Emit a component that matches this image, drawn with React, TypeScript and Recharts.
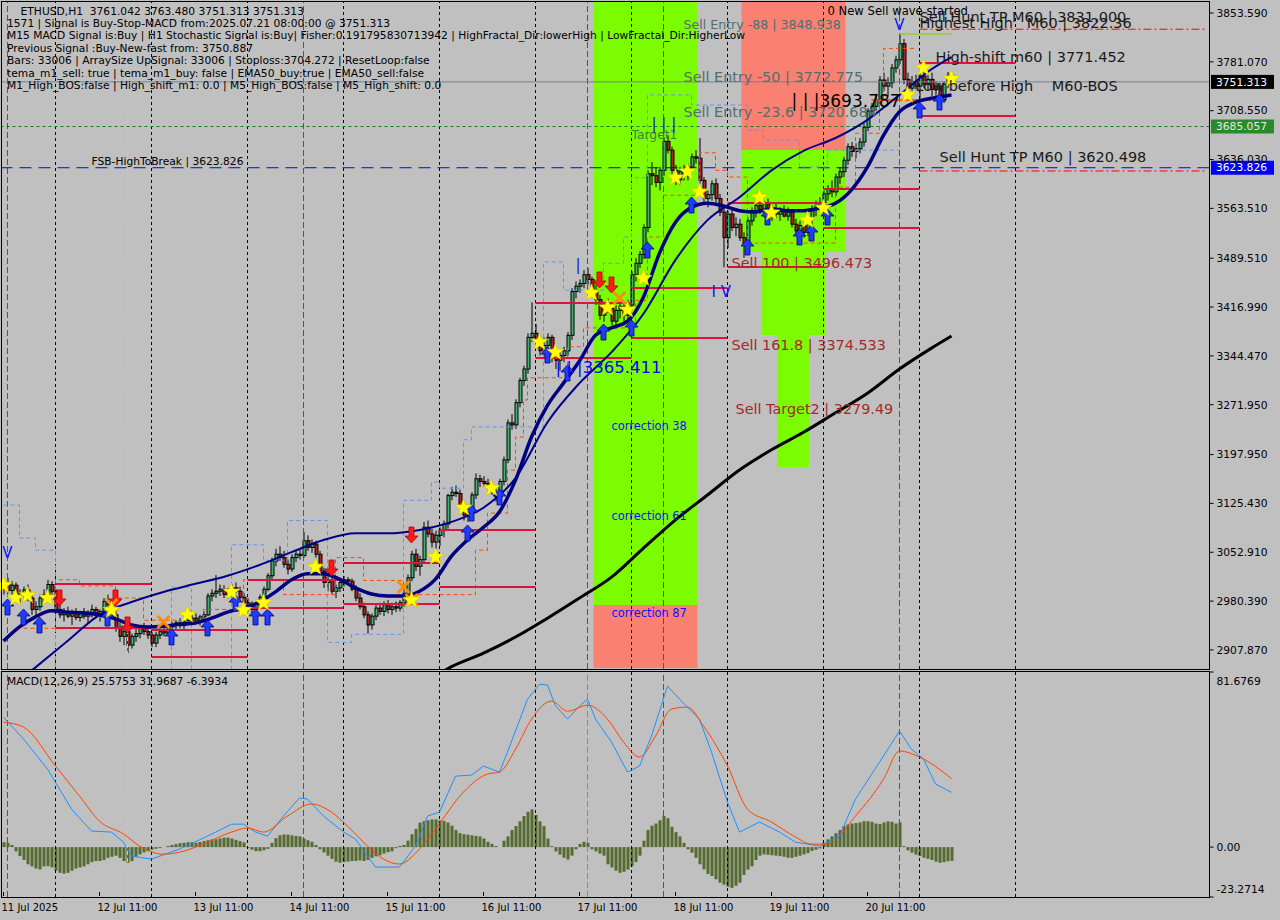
import React from 'react'
import {
  ComposedChart, Bar, Line, XAxis, YAxis,
  ReferenceArea, ReferenceLine, ReferenceDot,
} from 'recharts'

const FONT = "'DejaVu Sans', Verdana, sans-serif"

// ETHUSD H1 bars, [open, high, low, close], one array per day
const jul11 = [
  [2998, 3012, 2990, 3006], [3006, 3015, 2992, 2996], [2996, 3010, 2990, 3004], [3004, 3008, 2982, 2988],
  [2988, 2998, 2978, 2992], [2992, 3002, 2984, 2997], [2997, 3005, 2980, 2985], [2985, 2990, 2960, 2968],
  [2968, 2980, 2958, 2972], [2972, 2990, 2966, 2985], [2985, 2998, 2978, 2990], [2990, 3012, 2985, 3005],
  [3005, 3010, 2990, 2995],
]
const jul12 = [
  [2995, 2998, 2962, 2968], [2968, 2975, 2955, 2960], [2960, 2970, 2950, 2965], [2965, 2972, 2955, 2958],
  [2958, 2968, 2945, 2962], [2962, 2970, 2952, 2956], [2956, 2966, 2950, 2963], [2963, 2970, 2954, 2958],
  [2958, 2967, 2948, 2962], [2962, 2975, 2956, 2968], [2968, 2972, 2955, 2960], [2960, 2968, 2950, 2965],
  [2965, 2985, 2960, 2980], [2980, 2990, 2968, 2975], [2975, 2980, 2955, 2960], [2960, 2965, 2935, 2940],
  [2940, 2948, 2920, 2928], [2928, 2940, 2915, 2935], [2935, 2938, 2903, 2915], [2915, 2932, 2910, 2928],
  [2928, 2940, 2920, 2932], [2932, 2945, 2925, 2940], [2940, 2948, 2930, 2935], [2935, 2942, 2924, 2930],
]
const jul13 = [
  [2930, 2935, 2912, 2918], [2918, 2935, 2912, 2930], [2930, 2940, 2924, 2935], [2935, 2942, 2928, 2933],
  [2933, 2945, 2930, 2942], [2942, 2950, 2935, 2945], [2945, 2952, 2938, 2948], [2948, 2955, 2940, 2944],
  [2944, 2953, 2938, 2950], [2950, 2958, 2944, 2952], [2952, 2960, 2946, 2955], [2955, 2962, 2948, 2950],
  [2950, 2960, 2944, 2957], [2957, 2965, 2950, 2960], [2960, 2992, 2958, 2988], [2988, 2998, 2980, 2992],
  [2992, 3019, 2985, 2995], [2995, 3005, 2988, 2998], [2998, 3004, 2985, 2990], [2990, 3000, 2984, 2996],
  [2996, 3006, 2990, 3000], [3000, 3008, 2992, 2995], [2995, 3002, 2982, 2986], [2986, 2992, 2972, 2978],
]
const jul14 = [
  [2978, 2985, 2965, 2972], [2972, 2980, 2962, 2968], [2968, 2978, 2960, 2975], [2975, 2990, 2970, 2986],
  [2986, 3002, 2980, 2998], [2998, 3022, 2995, 3018], [3018, 3045, 3012, 3040], [3040, 3058, 3032, 3050],
  [3050, 3062, 3040, 3045], [3045, 3055, 3030, 3035], [3035, 3042, 3020, 3028], [3028, 3050, 3024, 3045],
  [3045, 3055, 3038, 3050], [3050, 3058, 3042, 3048], [3048, 3083, 3045, 3070], [3070, 3078, 3055, 3060],
  [3060, 3072, 3052, 3065], [3065, 3070, 3045, 3050], [3050, 3055, 3020, 3025], [3025, 3030, 3000, 3008],
  [3008, 3020, 2995, 3012], [3012, 3018, 2990, 2995], [2995, 3005, 2985, 3000], [3000, 3012, 2994, 3008],
]
const jul15 = [
  [3008, 3018, 3002, 3012], [3012, 3016, 3004, 3010], [3010, 3014, 2995, 2998], [2998, 3004, 2980, 2985],
  [2985, 2992, 2968, 2972], [2972, 2978, 2955, 2960], [2960, 2965, 2932, 2945], [2945, 2962, 2938, 2958],
  [2958, 2975, 2952, 2970], [2970, 2978, 2960, 2965], [2965, 2980, 2958, 2975], [2975, 2982, 2962, 2968],
  [2968, 2978, 2960, 2972], [2972, 2980, 2964, 2970], [2970, 2982, 2965, 2978], [2978, 2998, 2972, 2992],
  [2992, 3020, 2988, 3015], [3015, 3055, 3010, 3050], [3050, 3058, 3025, 3032], [3032, 3048, 3018, 3042],
  [3042, 3098, 3038, 3090], [3090, 3100, 3075, 3080], [3080, 3088, 3060, 3068], [3068, 3085, 3058, 3078],
]
const jul16 = [
  [3078, 3090, 3062, 3086], [3086, 3100, 3075, 3095], [3095, 3140, 3088, 3137], [3137, 3150, 3130, 3142],
  [3142, 3152, 3135, 3140], [3140, 3146, 3118, 3122], [3122, 3128, 3100, 3108], [3108, 3120, 3098, 3115],
  [3115, 3142, 3110, 3138], [3138, 3170, 3132, 3162], [3162, 3168, 3150, 3158], [3158, 3166, 3150, 3155],
  [3155, 3162, 3145, 3150], [3150, 3158, 3138, 3142], [3142, 3150, 3128, 3135], [3135, 3162, 3130, 3158],
  [3158, 3195, 3152, 3190], [3190, 3250, 3185, 3245], [3245, 3258, 3235, 3242], [3242, 3280, 3236, 3275],
  [3275, 3312, 3268, 3308], [3308, 3330, 3300, 3325], [3325, 3378, 3318, 3372], [3372, 3424, 3365, 3378],
]
const jul17 = [
  [3378, 3392, 3360, 3366], [3366, 3375, 3345, 3352], [3352, 3372, 3340, 3360], [3360, 3378, 3348, 3372],
  [3372, 3376, 3335, 3342], [3342, 3358, 3325, 3338], [3338, 3350, 3322, 3345], [3345, 3358, 3335, 3352],
  [3352, 3380, 3345, 3375], [3375, 3445, 3368, 3440], [3440, 3455, 3430, 3448], [3448, 3458, 3438, 3452],
  [3452, 3472, 3445, 3465], [3465, 3475, 3450, 3458], [3458, 3462, 3438, 3442], [3442, 3450, 3420, 3428],
  [3428, 3435, 3398, 3405], [3405, 3425, 3395, 3420], [3420, 3430, 3408, 3415], [3415, 3420, 3390, 3396],
  [3396, 3420, 3385, 3412], [3412, 3425, 3400, 3418], [3418, 3425, 3395, 3405], [3405, 3428, 3398, 3420],
]
const jul18 = [
  [3420, 3470, 3412, 3465], [3465, 3490, 3455, 3482], [3482, 3500, 3475, 3495], [3495, 3540, 3488, 3535],
  [3535, 3620, 3528, 3615], [3615, 3632, 3598, 3612], [3612, 3625, 3595, 3602], [3602, 3625, 3590, 3620],
  [3620, 3669, 3612, 3663], [3663, 3672, 3645, 3650], [3650, 3655, 3615, 3620], [3620, 3628, 3598, 3606],
  [3606, 3625, 3598, 3618], [3618, 3628, 3605, 3612], [3612, 3630, 3605, 3625], [3625, 3645, 3618, 3640],
  [3640, 3650, 3630, 3638], [3638, 3668, 3600, 3605], [3605, 3610, 3570, 3578], [3578, 3590, 3565, 3584],
  [3584, 3605, 3575, 3600], [3600, 3608, 3572, 3578], [3578, 3585, 3552, 3558], [3558, 3565, 3476, 3520],
]
const jul19 = [
  [3520, 3560, 3505, 3555], [3555, 3565, 3530, 3535], [3535, 3550, 3522, 3540], [3540, 3548, 3515, 3520],
  [3520, 3528, 3490, 3510], [3510, 3550, 3505, 3545], [3545, 3565, 3538, 3560], [3560, 3575, 3550, 3568],
  [3568, 3580, 3555, 3562], [3562, 3575, 3550, 3570], [3570, 3578, 3552, 3558], [3558, 3568, 3545, 3562],
  [3562, 3570, 3548, 3555], [3555, 3565, 3545, 3560], [3560, 3568, 3550, 3552], [3552, 3565, 3545, 3558],
  [3558, 3562, 3535, 3540], [3540, 3548, 3522, 3530], [3530, 3545, 3525, 3538], [3538, 3550, 3520, 3528],
  [3528, 3552, 3522, 3548], [3548, 3568, 3540, 3562], [3562, 3575, 3552, 3568], [3568, 3580, 3558, 3572],
]
const jul20 = [
  [3572, 3590, 3565, 3585], [3585, 3598, 3575, 3592], [3592, 3605, 3580, 3588], [3588, 3615, 3582, 3610],
  [3610, 3625, 3600, 3618], [3618, 3640, 3610, 3635], [3635, 3660, 3628, 3655], [3655, 3662, 3640, 3648],
  [3648, 3660, 3638, 3652], [3652, 3668, 3645, 3662], [3662, 3690, 3655, 3684], [3684, 3712, 3678, 3708],
  [3708, 3720, 3700, 3715], [3715, 3732, 3708, 3725], [3725, 3760, 3718, 3754], [3754, 3765, 3738, 3745],
  [3745, 3758, 3730, 3750], [3750, 3778, 3742, 3772], [3772, 3790, 3765, 3784], [3784, 3822.36, 3778, 3808],
  [3808, 3815, 3748, 3755], [3755, 3765, 3735, 3742], [3742, 3760, 3738, 3752], [3752, 3762, 3740, 3745],
]
const jul21 = [
  [3745, 3768, 3725, 3760], [3760, 3770, 3742, 3748], [3748, 3762, 3738, 3755], [3755, 3765, 3730, 3740],
  [3740, 3752, 3728, 3745], [3745, 3750, 3712, 3725], [3725, 3752, 3720, 3748], [3748, 3766, 3742, 3761],
  [3761.042, 3763.48, 3751.313, 3751.313],
]
const bars = [...jul11, ...jul12, ...jul13, ...jul14, ...jul15, ...jul16, ...jul17, ...jul18, ...jul19, ...jul20, ...jul21]
const SLOTS = 302 // bars + empty space to the right edge

// moving averages, sampled as [bar index, price]
const emaFastPts = [
  [0, 2921], [4, 2942], [8, 2957], [12, 2966], [16, 2964], [20, 2963], [24, 2960], [28, 2954], [32, 2945],
  [36, 2942], [40, 2943], [44, 2946], [48, 2948], [52, 2955], [56, 2964], [60, 2970], [64, 2979], [68, 2994],
  [72, 3012], [76, 3021], [80, 3021], [84, 3013], [88, 3000], [92, 2991], [96, 2988], [100, 2988], [104, 2995],
  [108, 3013], [112, 3047], [116, 3071], [120, 3090], [124, 3113], [128, 3160], [132, 3224], [136, 3271],
  [140, 3304], [144, 3337], [148, 3375], [152, 3386], [156, 3396], [160, 3432], [164, 3497], [168, 3543],
  [172, 3565], [176, 3571], [180, 3567], [184, 3560], [188, 3558], [192, 3563], [196, 3560], [200, 3560],
  [204, 3564], [208, 3571], [212, 3591], [216, 3625], [220, 3672], [224, 3707], [228, 3721], [232, 3727], [237, 3732],
]
const emaSlowPts = [
  [0, 2844], [8, 2882], [16, 2921], [24, 2960], [32, 2979], [40, 2994], [48, 3006], [56, 3018], [64, 3034],
  [72, 3053], [80, 3071], [88, 3081], [96, 3081], [104, 3086], [112, 3098], [120, 3119], [128, 3163],
  [136, 3246], [144, 3304], [152, 3350], [160, 3407], [168, 3487], [176, 3546], [184, 3580], [192, 3620],
  [200, 3649], [208, 3668], [216, 3695], [224, 3732], [232, 3770], [237, 3788],
]
const ma200Pts = [
  [104, 2853], [112, 2883], [120, 2903], [128, 2927], [136, 2955], [144, 2985], [152, 3016], [160, 3059],
  [168, 3101], [176, 3138], [184, 3175], [192, 3205], [200, 3231], [208, 3260], [216, 3289], [224, 3325],
  [232, 3356], [237, 3374],
]
// stepped channel lines [bar index, price]
const channelPts = [
  [0, 3123], [4, 3074], [8, 3056], [13, 2875], [42, 3001], [47, 2875], [57, 3064], [65, 3041], [71, 3100],
  [81, 2919], [87, 2931], [100, 3130], [107, 3157], [109, 3148], [115, 3220], [117, 3239], [135, 3484],
  [140, 3442], [150, 3482], [155, 3521], [157, 3609], [161, 3732], [172, 3717], [186, 3680], [190, 3665],
  [199, 3625], [206, 3650], [224, 3650],
]
const trailPts = [
  [5, 2940], [13, 3012], [19, 3003], [28, 2985], [35, 2952], [43, 2950], [50, 2968], [60, 3012], [70, 2990],
  [83, 3045], [90, 3011], [100, 2990], [118, 3056], [121, 3111], [126, 3175], [128, 3224], [130, 3279],
  [131, 3312], [141, 3358], [145, 3386], [158, 3427], [161, 3521], [165, 3583], [174, 3646], [178, 3620],
  [181, 3610], [186, 3512], [208, 3595], [213, 3675], [219, 3724], [220, 3801], [228, 3801],
]

// MACD(12,26,9): histogram per bar, main and signal sampled as [bar index, value]
const macdHist = [
  2.3, 2.0, 1.0, -2.0, -4.2, -6.0, -8.0, -9.0, -10.0, -10.4, -9.0, -8.9, -9.5,
  -11.0, -12.0, -12.4, -12.0, -11.0, -10.0, -9.5, -9.0, -8.0, -7.0, -6.5, -6.5, -6.0, -5.0, -4.5, -4.0, -5.0, -6.5, -7.3, -6.5, -4.5, -3.4, -2.5, -1.9,
  -1.2, -0.8, -0.4, 0.0, 0.5, 1.0, 1.4, 1.8, 2.0, 2.3, 2.3, 2.0, 2.4, 2.8, 3.2, 3.6, 3.6, 4.0, 4.4, 4.4, 4.0, 3.4, 2.8, 2.2,
  -0.5, -1.2, -1.9, -1.9, -1.5, -0.8, 2.0, 4.2, 5.5, 5.9, 5.8, 5.5, 5.2, 5.0, 4.0, 3.2, 2.5, 1.0, -1.0, -2.5, -4.0, -5.5, -6.8, -7.3,
  -7.0, -6.8, -6.5, -6.5, -6.2, -6.5, -6.0, -5.0, -4.3, -3.8, -3.0, -2.4, -2.0, -0.5, 0.6, 1.0, 3.0, 6.0, 8.5, 11.4, 12.1, 12.5, 12.9, 12.9,
  12.5, 12.2, 11.5, 10.0, 8.0, 6.5, 6.0, 5.8, 5.5, 5.2, 5.0, 4.0, 2.5, 1.5, 0.5, 0.0, 3.0, 5.0, 8.0, 9.8, 12.0, 14.5, 16.5, 17.6,
  15.0, 12.0, 9.8, 4.0, 0.5, -2.0, -3.5, -5.0, -5.8, -4.0, -1.0, 1.5, 2.5, 2.0, -1.0, -2.0, -3.0, -4.0, -8.0, -9.5, -11.0, -12.0, -11.5, -10.5,
  -9.0, -7.0, -4.0, 3.0, 8.0, 10.0, 11.0, 12.5, 14.5, 13.5, 9.5, 7.0, 5.0, 2.0, -1.0, -2.6, -5.0, -8.0, -10.4, -12.5, -13.5, -15.0, -16.6, -17.5,
  -18.5, -19.0, -18.0, -16.6, -13.0, -10.5, -9.0, -6.0, -4.0, -3.4, -3.6, -3.8, -4.0, -4.2, -4.5, -5.0, -5.0, -4.5, -4.0, -3.4, -2.8, -1.8, -1.2, -0.6,
  2.0, 3.6, 5.0, 6.5, 8.0, 9.8, 10.6, 11.0, 11.2, 11.5, 12.1, 12.1, 11.8, 11.0, 10.8, 11.5, 12.0, 11.8, 11.0, 11.5, 0.5, -1.5, -2.6, -3.5,
  -4.2, -5.0, -5.5, -6.0, -6.8, -7.3, -7.0, -6.6, -6.3934,
]
const macdPts = [
  [0, 60.6], [5, 50.4], [11, 36.4], [14, 27.1], [17, 17.7], [22, 7.5], [27, 7.0], [30, 2.3], [32, -4.2], [37, -5.6],
  [44, -0.9], [51, 5.1], [57, 10.7], [60, 10.7], [63, 7.0], [66, 5.1], [70, 14.5], [74, 22.9], [76, 22.4], [80, 14.5],
  [85, 7.0], [88, 3.7], [91, -4.2], [93, -9.3], [99, -9.3], [103, 0.5], [106, 14.5], [109, 16.3], [113, 33.1],
  [117, 33.6], [120, 37.8], [124, 35.0], [126, 44.3], [131, 69.0], [134, 76.0], [136, 75.6], [138, 65.8], [141, 59.7],
  [144, 65.8], [146, 69.0], [148, 59.7], [152, 49.0], [156, 35.0], [159, 37.8], [162, 51.8], [166, 75.1], [169, 69.0],
  [174, 59.7], [177, 44.3], [181, 21.0], [184, 7.0], [189, 11.7], [194, 7.0], [198, 2.3], [204, 0.5], [209, 5.1],
  [213, 22.4], [220, 42.5], [224, 54.1], [227, 45.7], [230, 41.1], [233, 29.4], [237, 25.5753],
]
const signalPts = [
  [0, 58.3], [5, 56.0], [13, 37.8], [19, 23.8], [24, 12.1], [30, 6.1], [34, 0.5], [40, -3.3], [45, -1.9], [51, 2.3],
  [57, 7.0], [61, 8.9], [65, 7.0], [71, 14.5], [77, 20.1], [82, 16.3], [86, 9.8], [91, 0.5], [95, -5.6], [99, -7.9],
  [104, -0.9], [108, 8.4], [115, 25.7], [121, 34.1], [124, 35.0], [128, 45.7], [132, 59.7], [137, 68.1], [141, 63.4],
  [146, 66.2], [151, 59.7], [155, 49.0], [159, 42.0], [163, 51.8], [167, 64.4], [171, 65.3], [175, 56.4], [181, 37.8],
  [186, 17.7], [192, 11.7], [198, 4.7], [202, 1.4], [206, 1.4], [213, 14.5], [220, 31.7], [224, 44.8], [229, 42.0],
  [237, 31.9687],
]

// axis ticks
const priceTicks = [3853.59, 3781.07, 3708.55, 3636.03, 3563.51, 3489.51, 3416.99, 3344.47, 3271.95, 3197.95, 3125.43, 3052.91, 2980.39, 2907.87]
const macdTicks = [81.6769, 0, -23.2714]
const timeTickIdx = [0, 24, 48, 72, 96, 120, 144, 168, 192, 216]
const timeTickLabels = ['11 Jul 2025', '12 Jul 11:00', '13 Jul 11:00', '14 Jul 11:00', '15 Jul 11:00', '16 Jul 11:00', '17 Jul 11:00', '18 Jul 11:00', '19 Jul 11:00', '20 Jul 11:00']

// period separators (bar index of 00:00) and signal time marks
const daySeparators = [13, 37, 61, 85, 109, 133, 157, 181, 205, 229, 253]
const signalMarks = [1, 75, 146, 165, 224]
const cyanMarks = [31]

// fibo zones: bars from..to, price bottom..top
const zones = [
  { x1: 148, x2: 173, lo: 2974.6, hi: 3869.9, kind: 'green' },
  { x1: 148, x2: 173, lo: 2881.0, hi: 2974.6, kind: 'salmon' },
  { x1: 185, x2: 210, lo: 3650.2, hi: 3869.9, kind: 'salmon' },
  { x1: 185, x2: 210, lo: 3498.7, hi: 3650.2, kind: 'green' },
  { x1: 190, x2: 205, lo: 3375.5, hi: 3498.7, kind: 'green' },
  { x1: 194, x2: 201, lo: 3179.5, hi: 3375.5, kind: 'green' },
]

// daily high/low levels: [from bar, to bar, price]
const dayLevels = [
  [13, 37, 3005.8], [13, 37, 2940.4], [37, 61, 2937.5], [37, 61, 2897.4], [61, 85, 3011.7], [61, 85, 2970.2],
  [85, 109, 3036.9], [85, 109, 2976.1], [109, 133, 3086.0], [109, 133, 3001.3], [133, 157, 3423.0], [133, 157, 3341.3],
  [157, 181, 3445.3], [157, 181, 3371.0], [181, 205, 3571.5], [181, 205, 3476.5], [205, 229, 3592.3], [205, 229, 3534.4],
  [229, 253, 3779.3], [229, 253, 3700.7],
]
const huntLevels = [[229, 301, 3829.5], [229, 301, 3619.0]]
const highestHigh = [[224, 237, 3822.36]]
const lowBeforeHigh = [[217, 232, 3724.4]]

// signal markers [bar index, price]
const stars = [
  [0, 3004], [3, 2985], [6, 2989], [11, 2985], [27, 2967], [46, 2960], [57, 2994], [60, 2967], [65, 2978], [78, 3031],
  [102, 2982], [108, 3046], [115, 3119], [122, 3148], [134, 3365], [138, 3350], [147, 3438], [151, 3416], [156, 3413],
  [160, 3460], [168, 3609], [171, 3618], [174, 3588], [189, 3580], [192, 3557], [201, 3546], [205, 3564], [226, 3732],
  [230, 3772], [237, 3756],
]
const upArrows = [
  [1, 2971.6], [5, 2956.8], [9, 2944.9], [26, 2955.3], [42, 2927.1], [51, 2940.5], [58, 2977.5], [63, 2956.8],
  [66, 2956.8], [116, 3081.5], [117, 3111.2], [124, 3134.9], [136, 3345.8], [141, 3319.1], [150, 3379.9], [157, 3385.9],
  [161, 3501.7], [172, 3568.5], [186, 3506.1], [191, 3550.7], [199, 3521.0], [202, 3526.9], [206, 3550.7], [229, 3709.6], [234, 3721.4],
]
const downArrows = [[14, 2985], [28, 2985], [31, 2944.9], [82, 3029.5], [102, 3078.5], [149, 3457.2], [152, 3449.7]]
const crosses = [[27, 2974.6], [40, 2949.4], [100, 3001.3], [102, 2982], [154, 3430.4]]

// chart texts anchored at [bar index, price]
const notes = [
  { i: 170, p: 3835.8, text: 'Sell Entry -88 | 3848.938', kind: 'entrySmall' },
  { i: 170, p: 3758.6, text: 'Sell Entry -50 | 3772.775', kind: 'entry' },
  { i: 170, p: 3706.6, text: 'Sell Entry -23.6 | 3720.684', kind: 'entry' },
  { i: 157, p: 3672.4, text: 'Target1', kind: 'target' },
  { i: 206, p: 3856.6, text: '0 New Sell wave started', kind: 'wave' },
  { i: 229, p: 3847.7, text: 'Sell Hunt TP M60 | 3831.000', kind: 'hunt' },
  { i: 229, p: 3838.7, text: 'Highest High   M60 | 3822.36', kind: 'hunt' },
  { i: 233, p: 3788.3, text: 'High-shift m60 | 3771.452', kind: 'hunt' },
  { i: 228, p: 3745.2, text: 'Low before High    M60-BOS', kind: 'hunt' },
  { i: 234, p: 3639.8, text: 'Sell Hunt TP M60 | 3620.498', kind: 'hunt' },
  { i: 22, p: 3633.9, text: 'FSB-HighToBreak | 3623.826', kind: 'small' },
  { i: 197, p: 3722.9, text: '| | |3693.787', kind: 'big' },
  { i: 138, p: 3328.0, text: '| | |3365.411', kind: 'bigBlue' },
  { i: 182, p: 3482.4, text: 'Sell 100 | 3496.473', kind: 'sell' },
  { i: 182, p: 3360.6, text: 'Sell 161.8 | 3374.533', kind: 'sell' },
  { i: 183, p: 3265.6, text: 'Sell Target2 | 3279.49', kind: 'sell' },
  { i: 152, p: 3240.4, text: 'correction 38', kind: 'corr' },
  { i: 152, p: 3106.7, text: 'correction 61', kind: 'corr' },
  { i: 152, p: 2962.7, text: 'correction 87', kind: 'corr' },
  { i: 1, p: 3051.8, text: 'V', kind: 'markC' },
  { i: 224, p: 3835.8, text: 'V', kind: 'markC' },
  { i: 177, p: 3439.3, text: 'I V', kind: 'mark' },
  { i: 143, p: 3479.4, text: '|', kind: 'mark' },
  { i: 162, p: 3688.8, text: '| | |', kind: 'mark' },
]

const infoLines = [
  '    ETHUSD,H1  3761.042 3763.480 3751.313 3751.313',
  '1571 | Signal is Buy-Stop-MACD from:2025.07.21 08:00:00 @ 3751.313',
  'M15 MACD Signal is:Buy | H1 Stochastic Signal is:Buy| Fisher:0.191795830713942 | HighFractal_Dir:lowerHigh | LowFractal_Dir:HigherLow',
  'Previous Signal :Buy-New-fast from: 3750.887',
  'Bars: 33006 | ArraySize UpSignal: 33006 | Stoploss:3704.272 | ResetLoop:false',
  'tema_m1_sell: true | tema_m1_buy: false | EMA50_buy:true | EMA50_sell:false',
  'M1_High_BOS:false | High_shift_m1: 0.0 | M5_High_BOS:false | M5_High_shift: 0.0',
]

const noteStyle: Record<string, { fill: string; size: number; anchor?: string }> = {
  entrySmall: { fill: '#526e6e', size: 12.6 },
  entry: { fill: '#526e6e', size: 14.4 },
  target: { fill: '#3f7f3f', size: 12.3 },
  wave: { fill: '#000', size: 11.6 },
  hunt: { fill: '#1a1a1a', size: 14.5 },
  small: { fill: '#000', size: 10.7 },
  big: { fill: '#000', size: 17 },
  bigBlue: { fill: '#0000ff', size: 16.5 },
  sell: { fill: '#a52a2a', size: 14.4 },
  corr: { fill: '#1010ff', size: 11.4 },
  mark: { fill: '#1010ff', size: 15 },
  markC: { fill: '#1010ff', size: 15, anchor: 'middle' },
}

const zoneFill: Record<string, string> = { green: '#7cfc00', salmon: '#fa8072' }

// build chart rows
const priceRows: any[] = Array.from({ length: SLOTS }, (_, i) => {
  const b = bars[i]
  return b
    ? { i, hl: [b[2], b[1]], o: b[0], h: b[1], l: b[2], c: b[3] }
    : { i, hl: null }
})
const attach = (pts: number[][], key: string) => pts.forEach(([i, v]) => { priceRows[i][key] = v })
attach(emaFastPts, 'fast')
attach(emaSlowPts, 'slow')
attach(ma200Pts, 'ma')
attach(channelPts, 'chan')
attach(trailPts, 'trail')

const macdRows: any[] = Array.from({ length: SLOTS }, (_, i) => ({
  i, hist: i < macdHist.length ? macdHist[i] : null,
}))
macdPts.forEach(([i, v]) => { macdRows[i].macd = v })
signalPts.forEach(([i, v]) => { macdRows[i].signal = v })

const Candle = (props: any) => {
  const { x, y, width, height, payload } = props
  if (!payload || payload.o == null) return null
  const { o, h, l, c } = payload
  const top = Math.min(y, y + height)
  const span = Math.abs(height)
  const cx = x + width / 2
  const py = (v: number) => top + ((h - v) / (h - l || 1)) * span
  const bTop = py(Math.max(o, c))
  const bBot = py(Math.min(o, c))
  return (
    <g>
      <line x1={cx} x2={cx} y1={top} y2={top + span} stroke="#000" strokeWidth={1} />
      <rect x={cx - 1} y={bTop} width={3} height={Math.max(bBot - bTop, 1)}
        fill={c >= o ? '#3cb371' : '#b22222'} stroke="#000" strokeWidth={1} />
    </g>
  )
}

const starPath = (cx: number, cy: number, R: number, r: number) => {
  let d = ''
  for (let k = 0; k < 10; k++) {
    const rad = k % 2 === 0 ? R : r
    const a = -Math.PI / 2 + (k * Math.PI) / 5
    d += (k ? 'L' : 'M') + (cx + rad * Math.cos(a)).toFixed(1) + ',' + (cy + rad * Math.sin(a)).toFixed(1)
  }
  return d + 'Z'
}
const StarShape = (p: any) => <path d={starPath(p.cx, p.cy, 9, 3.8)} fill="#ffff00" stroke="#d4c000" strokeWidth={0.6} />
const UpArrow = (p: any) => {
  const { cx, cy } = p
  const pts = [[0, -8], [6.5, -1], [2.5, -1], [2.5, 8], [-2.5, 8], [-2.5, -1], [-6.5, -1]]
  return <polygon points={pts.map(([a, b]) => `${cx + a},${cy + b}`).join(' ')} fill="#1f3cff" stroke="#00008b" strokeWidth={0.8} />
}
const DownArrow = (p: any) => {
  const { cx, cy } = p
  const pts = [[0, 8], [6.5, 1], [2.5, 1], [2.5, -8], [-2.5, -8], [-2.5, 1], [-6.5, 1]]
  return <polygon points={pts.map(([a, b]) => `${cx + a},${cy + b}`).join(' ')} fill="#ff1a1a" stroke="#b00000" strokeWidth={0.8} />
}
const Cross = (p: any) => (
  <g stroke="#ff8c00" strokeWidth={3}>
    <line x1={p.cx - 6} y1={p.cy - 6} x2={p.cx + 6} y2={p.cy + 6} />
    <line x1={p.cx - 6} y1={p.cy + 6} x2={p.cx + 6} y2={p.cy - 6} />
  </g>
)
const noteShape = (text: string, kind: string) => (p: any) => {
  const s = noteStyle[kind]
  return (
    <text x={p.cx} y={p.cy} dy="0.35em" fontFamily={FONT} fontSize={s.size} fill={s.fill}
      textAnchor={s.anchor || 'start'} style={{ whiteSpace: 'pre' }}>{text}</text>
  )
}

const priceTag = (bg: string, fg: string, text: string) => (props: any) => {
  const vb = props.viewBox
  if (!vb) return null
  const x = vb.x + vb.width + 1.5
  return (
    <g>
      <rect x={x} y={vb.y - 7} width={63} height={14} fill={bg} />
      <text x={x + 5} y={vb.y} dy="0.35em" fontSize={10.7} fill={fg} fontFamily={FONT}>{text}</text>
    </g>
  )
}

const MacdTick = (props: any) => {
  const { x, y, payload } = props
  const v = payload.value
  const label = v === 0 ? '0.00' : v.toFixed(4)
  const dy = v > 50 ? 9 : v < -10 ? -8 : 0
  return (
    <text x={x} y={y + dy} dy="0.35em" fontSize={10.7} fill="#000" fontFamily={FONT}>{label}</text>
  )
}

const TimeTick = (props: any) => {
  const { x, y, payload } = props
  const k = timeTickIdx.indexOf(payload.value)
  return (
    <g>
      <line x1={x} x2={x} y1={y - 5} y2={y - 1} stroke="#000" />
      <text x={x - 2} y={y + 10} dy="0.35em" fontSize={10} fill="#000" fontFamily={FONT}>{timeTickLabels[k]}</text>
    </g>
  )
}

const sepLines = (marks: number[], color: string, dash: string) =>
  marks.map((m) => (
    <ReferenceLine key={`${color}-${m}`} x={m} stroke={color} strokeDasharray={dash} strokeWidth={1} />
  ))

export default function App() {
  return (
    <div style={{ position: 'absolute', left: 0, top: 0, width: 1280, height: 920, background: '#c0c0c0', overflow: 'hidden', fontFamily: FONT }}>
      <div style={{ position: 'absolute', left: 0, top: 0 }}>
        <ComposedChart width={1280} height={672} data={priceRows} margin={{ top: 2, right: 0, bottom: 3, left: 1.5 }}>
          <XAxis dataKey="i" type="category" hide />
          <YAxis orientation="right" width={70.5} domain={[2879.56, 3869.92]} allowDataOverflow ticks={priceTicks}
            interval={0} axisLine={false} tickSize={4} tickMargin={3} tickLine={{ stroke: '#000' }}
            tick={{ fontSize: 10.7, fill: '#000', fontFamily: FONT }} tickFormatter={(v: number) => v.toFixed(3)} />
          {zones.map((z, k) => (
            <ReferenceArea key={`z${k}`} x1={z.x1} x2={z.x2} y1={z.lo} y2={z.hi} fill={zoneFill[z.kind]} fillOpacity={1} stroke="none" />
          ))}
          {sepLines(daySeparators, '#000', '3 3')}
          {sepLines(signalMarks, '#c0148a', '6 3')}
          {sepLines(cyanMarks, '#9ad6e6', '4 3')}
          <ReferenceLine y={3751.313} stroke="#708090" strokeWidth={1} label={priceTag('#000', '#fff', '3751.313')} />
          <ReferenceLine y={3685.057} stroke="#1f7a1f" strokeDasharray="3 3" label={priceTag('#2a8a2a', '#e8e8e8', '3685.057')} />
          <ReferenceLine y={3623.826} stroke="#0000ff" strokeDasharray="12 7" label={priceTag('#0000ff', '#fff', '3623.826')} />
          {huntLevels.map(([a, b, p], k) => (
            <ReferenceLine key={`h${k}`} segment={[{ x: a, y: p }, { x: b, y: p }]} stroke="#ff0000" strokeDasharray="8 3 2 3" />
          ))}
          <Line dataKey="chan" type="stepAfter" stroke="#6495ed" strokeWidth={1} strokeDasharray="4 3" dot={false} activeDot={false} connectNulls isAnimationActive={false} />
          <Line dataKey="trail" type="stepAfter" stroke="#ff4500" strokeWidth={1} strokeDasharray="4 3" dot={false} activeDot={false} connectNulls isAnimationActive={false} />
          {dayLevels.map(([a, b, p], k) => (
            <ReferenceLine key={`d${k}`} segment={[{ x: a, y: p }, { x: b, y: p }]} stroke="#dc143c" strokeWidth={2} />
          ))}
          {highestHigh.map(([a, b, p], k) => (
            <ReferenceLine key={`hh${k}`} segment={[{ x: a, y: p }, { x: b, y: p }]} stroke="#9acd32" strokeWidth={1.5} />
          ))}
          {lowBeforeHigh.map(([a, b, p], k) => (
            <ReferenceLine key={`lb${k}`} segment={[{ x: a, y: p }, { x: b, y: p }]} stroke="#ff4500" strokeWidth={1.5} />
          ))}
          <Bar dataKey="hl" barSize={3} shape={Candle} isAnimationActive={false} />
          <Line dataKey="ma" type="monotone" stroke="#000" strokeWidth={3} dot={false} activeDot={false} connectNulls isAnimationActive={false} />
          <Line dataKey="slow" type="monotone" stroke="#00008b" strokeWidth={2} dot={false} activeDot={false} connectNulls isAnimationActive={false} />
          <Line dataKey="fast" type="monotone" stroke="#000080" strokeWidth={3.5} dot={false} activeDot={false} connectNulls isAnimationActive={false} />
          {upArrows.map(([i, p], k) => <ReferenceDot key={`u${k}`} x={i} y={p} shape={UpArrow} />)}
          {downArrows.map(([i, p], k) => <ReferenceDot key={`dn${k}`} x={i} y={p} shape={DownArrow} />)}
          {crosses.map(([i, p], k) => <ReferenceDot key={`x${k}`} x={i} y={p} shape={Cross} />)}
          {stars.map(([i, p], k) => <ReferenceDot key={`s${k}`} x={i} y={p} shape={StarShape} />)}
          {notes.map((n, k) => <ReferenceDot key={`n${k}`} x={n.i} y={n.p} shape={noteShape(n.text, n.kind)} />)}
        </ComposedChart>
      </div>

      <div style={{ position: 'absolute', left: 0, top: 670 }}>
        <ComposedChart width={1280} height={250} data={macdRows} margin={{ top: 2, right: 0, bottom: 0, left: 1.5 }}>
          <XAxis dataKey="i" type="category" height={23} ticks={timeTickIdx} interval={0} axisLine={false}
            tickLine={false} tickSize={0} tickMargin={0} tick={<TimeTick />} />
          <YAxis orientation="right" width={70.5} domain={[-23.2714, 81.6769]} allowDataOverflow ticks={macdTicks}
            interval={0} axisLine={false} tickSize={4} tickMargin={3} tickLine={{ stroke: '#000' }} tick={<MacdTick />} />
          {sepLines(daySeparators, '#000', '3 3')}
          {sepLines([1, 75, 165, 224], '#c0148a', '6 3')}
          {sepLines([146], '#8a8a8a', '6 3')}
          {sepLines(cyanMarks, '#9ad6e6', '4 3')}
          <Bar dataKey="hist" barSize={3} fill="#556b2f" isAnimationActive={false} />
          <Line dataKey="macd" type="linear" stroke="#1e90ff" strokeWidth={1} dot={false} activeDot={false} connectNulls isAnimationActive={false} />
          <Line dataKey="signal" type="monotone" stroke="#ff4500" strokeWidth={1} dot={false} activeDot={false} connectNulls isAnimationActive={false} />
        </ComposedChart>
      </div>

      {/* pane frames */}
      <div style={{ position: 'absolute', left: 1, top: 1, width: 1209, height: 669, border: '1px solid #000', boxSizing: 'border-box', pointerEvents: 'none' }} />
      <div style={{ position: 'absolute', left: 1, top: 671, width: 1209, height: 227, border: '1px solid #000', boxSizing: 'border-box', pointerEvents: 'none' }} />

      <div style={{ position: 'absolute', left: 7, top: 5.5, fontSize: 10.7, lineHeight: '12.4px', color: '#000', whiteSpace: 'pre' }}>
        {infoLines.map((t, k) => <div key={k}>{t}</div>)}
      </div>
      <div style={{ position: 'absolute', left: 7, top: 675, fontSize: 10.7, color: '#000', whiteSpace: 'pre' }}>
        MACD(12,26,9) 25.5753 31.9687 -6.3934
      </div>
    </div>
  )
}
